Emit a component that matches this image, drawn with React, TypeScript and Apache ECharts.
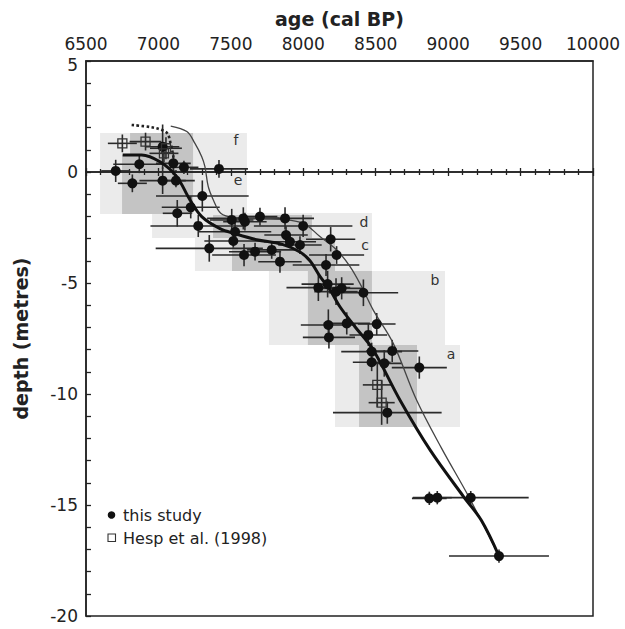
import React, { useEffect, useRef } from "react";
import * as echarts from "echarts";

// ---- axes ----
const ageMin = 6500;
const ageMax = 10000;
const ageStep = 500;
const depthMin = -20;
const depthMax = 5;
const depthStep = 5;

// ---- this study (filled circles) ----
const ages = [6705, 6820, 6868, 7029, 7103, 7176, 7029, 7121, 7418, 7303, 7223, 7130, 7275, 7506, 7586, 7597, 7701, 7874, 7999, 7529, 7881, 7908, 7977, 8189, 7517, 7351, 7591, 7667, 7782, 7839, 8157, 8230, 8104, 8168, 8226, 8265, 8415, 8173, 8300, 8507, 8177, 8449, 8472, 8614, 8472, 8559, 8801, 8580, 8870, 8925, 9156, 9351];
const depths = [0.05, -0.51, 0.35, 1.14, 0.39, 0.21, -0.39, -0.39, 0.14, -1.08, -1.59, -1.86, -2.43, -2.16, -2.09, -2.24, -2.01, -2.09, -2.43, -2.69, -2.84, -3.14, -3.29, -3.03, -3.11, -3.44, -3.74, -3.59, -3.51, -4.04, -4.19, -3.74, -5.21, -5.05, -5.39, -5.24, -5.44, -6.89, -6.82, -6.85, -7.45, -7.34, -8.09, -8.06, -8.57, -8.62, -8.81, -10.84, -14.7, -14.67, -14.67, -17.3];
const ageErr = [100, 100, 180, 115, 120, 100, 160, 130, 200, 320, 200, 100, 330, 150, 250, 150, 120, 200, 340, 250, 150, 180, 150, 170, 200, 370, 220, 180, 170, 150, 230, 190, 220, 180, 150, 150, 240, 190, 160, 130, 180, 130, 210, 180, 130, 120, 190, 375, 120, 100, 400, 345];
const depthErr = [0.5, 0.4, 0.4, 1.0, 0.5, 0.3, 0.6, 0.3, 0.4, 0.7, 0.5, 0.6, 0.5, 0.5, 0.5, 0.4, 0.4, 0.5, 0.5, 0.4, 0.4, 0.3, 0.4, 0.55, 0.3, 0.6, 0.5, 0.4, 0.4, 0.5, 0.5, 0.4, 0.6, 0.6, 0.6, 0.5, 0.6, 0.7, 0.5, 0.5, 0.5, 0.5, 0.4, 0.5, 0.4, 0.6, 0.5, 0.5, 0.3, 0.3, 0.3, 0.3];

// ---- Hesp et al. (1998) (open squares) ----
const hespAges = [6751, 6911, 7052, 7038, 8511, 8541];
const hespDepths = [1.29, 1.37, 1.07, 0.84, -9.59, -10.39];
const hespAgeErr = [100, 110, 110, 100, 100, 90];
const hespDepthErr = [0.4, 0.4, 0.5, 0.4, 1.0, 1.0];

// ---- envelope boxes: [ageFrom, ageTo, depthTop, depthBottom] ----
const lightBoxes = [
  [6597, 7611, 1.76, -1.89], // f
  [6652, 7611, 0.0, -1.89], // e
  [6956, 8474, -1.85, -2.97], // d
  [7252, 8474, -2.97, -4.46], // c
  [7763, 8978, -4.46, -7.79], // b
  [8219, 9082, -7.79, -11.49], // a
];
const darkBoxes = [
  [6804, 7239, 1.76, 0.77], // f
  [6749, 7239, 0.77, -1.89], // e
  [7377, 8060, -1.94, -2.97], // d
  [7508, 8219, -2.97, -4.46], // c
  [8032, 8474, -4.46, -7.79], // b
  [8385, 8785, -7.79, -11.49], // a
];
const boxLabelNames = ["f", "e", "d", "c", "b", "a"];
const boxLabelAges = [7535, 7549, 8419, 8426, 8909, 9020];
const boxLabelDepths = [1.44, -0.36, -2.25, -3.29, -4.86, -8.2];

// ---- curves ----
const thickAges = [6753, 6884, 7011, 7126, 7218, 7299, 7425, 7529, 7678, 7850, 7977, 8046, 8115, 8184, 8253, 8357, 8483, 8667, 8875, 9106, 9230, 9351];
const thickDepths = [0.77, 0.77, 0.46, -0.21, -1.26, -2.01, -2.55, -2.78, -3.05, -3.25, -3.6, -4.0, -4.7, -5.3, -6.07, -6.97, -8.02, -10.27, -12.52, -14.62, -15.7, -17.3];
const thinAges = [7085, 7196, 7252, 7299, 7321, 7344, 7379, 7430, 7517, 7839, 8000, 8115, 8230, 8323, 8403, 8483, 8621, 8782, 8955, 9140, 9351];
const thinDepths = [2.07, 1.82, 1.29, 0.69, 0.24, -0.66, -1.26, -1.86, -2.05, -2.13, -2.31, -2.91, -3.51, -4.26, -5.17, -6.22, -7.72, -10.27, -12.45, -14.6, -17.3];
const dottedAges = [6815, 6950, 7011, 7061, 7084, 7103, 7126];
const dottedDepths = [2.12, 2.02, 1.92, 1.74, 1.29, 0.69, -0.36];

const FONT = "DejaVu Sans";
const INK = "#222";

const zip = (a: number[], b: number[]) => a.map((v, i) => [v, b[i]]);

export default function App() {
  const ref = useRef<HTMLDivElement>(null);
  useEffect(() => {
    if (!ref.current) return;
    const chart = echarts.init(ref.current, undefined, { renderer: "svg" });
    const gridRect = { left: 86, top: 61, width: 507, height: 555 };

    const boxRender = (color: string) => (params: any, api: any) => {
      const p0 = api.coord([api.value(0), api.value(2)]);
      const p1 = api.coord([api.value(1), api.value(3)]);
      return {
        type: "rect",
        shape: { x: p0[0], y: p0[1], width: p1[0] - p0[0], height: p1[1] - p0[1] },
        style: { fill: color },
      };
    };

    const errRender = (params: any, api: any) => {
      const x = api.value(0), y = api.value(1), ex = api.value(2), ey = api.value(3);
      const l = api.coord([x - ex, y]);
      const r = api.coord([x + ex, y]);
      const t = api.coord([x, y + ey]);
      const b = api.coord([x, y - ey]);
      const st = { stroke: "#2a2a2a", lineWidth: 1.6 };
      return {
        type: "group",
        children: [
          { type: "line", shape: { x1: l[0], y1: l[1], x2: r[0], y2: r[1] }, style: st },
          { type: "line", shape: { x1: t[0], y1: t[1], x2: b[0], y2: b[1] }, style: st },
        ],
      };
    };

    const zeroAxis = (gridIndex: number, inside: boolean) => ({
      type: "value",
      gridIndex,
      position: "bottom",
      min: ageMin,
      max: ageMax,
      interval: ageStep,
      z: 3,
      axisLine: { show: true, onZero: true, lineStyle: { color: INK, width: 1.5 } },
      axisTick: { show: true, inside, length: 4, lineStyle: { color: INK, width: 1.3 } },
      minorTick: { show: true, splitNumber: 5, length: 3, lineStyle: { color: INK, width: 1.3 } },
      axisLabel: { show: false },
      splitLine: { show: false },
      minorSplitLine: { show: false },
    });
    const hiddenY = (gridIndex: number) => ({
      type: "value",
      gridIndex,
      min: depthMin,
      max: depthMax,
      interval: depthStep,
      show: false,
    });

    chart.setOption({
      animation: false,
      backgroundColor: "#fff",
      grid: [
        { ...gridRect, show: true, borderColor: INK, borderWidth: 1.5, backgroundColor: "transparent", z: 10 },
        { ...gridRect },
        { ...gridRect },
      ],
      xAxis: [
        {
          type: "value",
          gridIndex: 0,
          position: "top",
          min: ageMin,
          max: ageMax,
          interval: ageStep,
          name: "age (cal BP)",
          nameLocation: "middle",
          nameGap: 33,
          nameTextStyle: { fontFamily: FONT, fontWeight: "bold", fontSize: 19, color: INK },
          axisLine: { show: true, onZero: false, lineStyle: { color: INK, width: 1.5 } },
          axisTick: { show: false },
          axisLabel: {
            fontFamily: FONT,
            fontSize: 17,
            color: INK,
            margin: 10,
            lineHeight: 15,
            formatter: (v: number) => String(v),
          },
          splitLine: { show: false },
        },
        zeroAxis(1, true),
        zeroAxis(2, false),
      ],
      yAxis: [
        {
          type: "value",
          gridIndex: 0,
          min: depthMin,
          max: depthMax,
          interval: depthStep,
          name: "depth (metres)",
          nameLocation: "middle",
          nameGap: 56,
          nameTextStyle: { fontFamily: FONT, fontWeight: "bold", fontSize: 19, color: INK },
          axisLine: { show: true, lineStyle: { color: INK, width: 1.5 } },
          axisTick: { show: true, inside: true, length: 5, lineStyle: { color: INK, width: 1.3 } },
          minorTick: { show: true, splitNumber: 5, length: 5, lineStyle: { color: INK, width: 1.3 } },
          axisLabel: {
            fontFamily: FONT,
            fontSize: 17,
            color: INK,
            margin: 8,
            lineHeight: 14,
            formatter: (v: number) => (v === depthMax ? `{lo|${v}}` : String(v)),
            rich: {
              lo: { fontFamily: FONT, fontSize: 17, color: INK, lineHeight: 14, padding: [7, 0, 0, 0] },
            },
          },
          splitLine: { show: false },
        },
        hiddenY(1),
        hiddenY(2),
      ],
      series: [
        {
          type: "custom",
          name: "light boxes",
          z: 1,
          renderItem: boxRender("#ebebeb"),
          encode: { x: [0, 1], y: [2, 3] },
          data: lightBoxes,
          silent: true,
        },
        {
          type: "custom",
          name: "dark boxes",
          z: 1,
          renderItem: boxRender("#c4c4c4"),
          encode: { x: [0, 1], y: [2, 3] },
          data: darkBoxes,
          silent: true,
        },
        {
          type: "custom",
          name: "box labels",
          z: 2,
          renderItem: (params: any, api: any) => {
            const p = api.coord([api.value(0), api.value(1)]);
            return {
              type: "text",
              x: p[0],
              y: p[1],
              style: {
                text: boxLabelNames[params.dataIndex],
                fill: "#333",
                font: `14px "${FONT}"`,
                align: "center",
                verticalAlign: "middle",
              },
            };
          },
          encode: { x: 0, y: 1 },
          data: zip(boxLabelAges, boxLabelDepths),
        },
        {
          type: "custom",
          name: "error bars",
          z: 4,
          renderItem: errRender,
          encode: { x: 0, y: 1 },
          data: ages.map((a, i) => [a, depths[i], ageErr[i], depthErr[i]]),
        },
        {
          type: "custom",
          name: "hesp error bars",
          z: 4,
          renderItem: errRender,
          encode: { x: 0, y: 1 },
          data: hespAges.map((a, i) => [a, hespDepths[i], hespAgeErr[i], hespDepthErr[i]]),
        },
        {
          type: "line",
          name: "thin curve",
          z: 5,
          smooth: 0.35,
          showSymbol: false,
          symbol: "none",
          lineStyle: { color: "#444", width: 1.3 },
          data: zip(thinAges, thinDepths),
        },
        {
          type: "line",
          name: "dotted curve",
          z: 5,
          smooth: 0.35,
          showSymbol: false,
          symbol: "none",
          lineStyle: { color: "#222", width: 2.6, type: [2.5, 2.5] },
          data: zip(dottedAges, dottedDepths),
        },
        {
          type: "line",
          name: "thick curve",
          z: 5,
          smooth: 0.35,
          showSymbol: false,
          symbol: "none",
          lineStyle: { color: "#111", width: 3 },
          data: zip(thickAges, thickDepths),
        },
        {
          type: "scatter",
          name: "this study",
          z: 6,
          symbol: "circle",
          symbolSize: 10,
          itemStyle: { color: "#111", opacity: 1 },
          data: zip(ages, depths),
        },
        {
          type: "scatter",
          name: "Hesp et al. (1998)",
          z: 6,
          symbol: "rect",
          symbolSize: 9,
          itemStyle: { color: "none", borderColor: "#333", borderWidth: 1.3, opacity: 1 },
          data: zip(hespAges, hespDepths),
        },
      ],
      graphic: [
        { type: "circle", shape: { cx: 111.5, cy: 515, r: 3.8 }, style: { fill: "#111" } },
        {
          type: "text",
          x: 123,
          y: 515,
          style: { text: "this study", font: `16px "${FONT}"`, fill: INK, verticalAlign: "middle" },
        },
        {
          type: "rect",
          shape: { x: 108, y: 534, width: 7.5, height: 7.5 },
          style: { fill: "#fff", stroke: "#333", lineWidth: 1.1 },
        },
        {
          type: "text",
          x: 123,
          y: 538,
          style: { text: "Hesp et al. (1998)", font: `16px "${FONT}"`, fill: INK, verticalAlign: "middle" },
        },
      ],
    });
    return () => chart.dispose();
  }, []);
  return (
    <div
      ref={ref}
      style={{ position: "absolute", left: 0, top: 0, width: 625, height: 629 }}
    />
  );
}
